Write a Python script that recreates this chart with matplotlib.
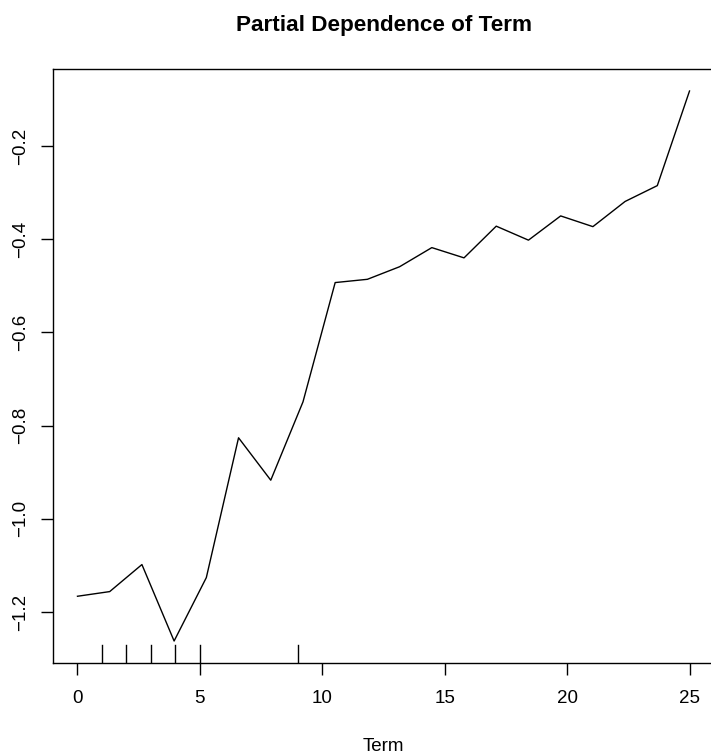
"""partial dependence of Term, redrawn in the style of an R base plot"""
import matplotlib
matplotlib.use("Agg")
import matplotlib.pyplot as plt

# grid of Term values and the partial dependence
term_grid = [0.0, 1.316, 2.632, 3.947, 5.263, 6.579, 7.895, 9.211, 10.526, 11.842,
             13.158, 14.474, 15.789, 17.105, 18.421, 19.737, 21.053, 22.368, 23.684, 25.0]
partial_dep = [-1.166, -1.156, -1.098, -1.262, -1.126, -0.826, -0.917, -0.749, -0.493, -0.486,
               -0.459, -0.418, -0.440, -0.372, -0.402, -0.350, -0.373, -0.319, -0.285, -0.082]
# observed Term values shown as the rug
rug_values = [1, 2, 3, 4, 5, 9]
x_ticks = [0, 5, 10, 15, 20, 25]
y_ticks = [-1.2, -1.0, -0.8, -0.6, -0.4, -0.2]

plt.rcParams["font.family"] = ["Liberation Sans", "DejaVu Sans"]

W, H = 711, 754
fig = plt.figure(figsize=(W / 100, H / 100), dpi=100)
left, right, top, bottom = 53, 714, 69, 663
ax = fig.add_axes([left / W, (H - bottom) / H, (right - left) / W, (bottom - top) / H])

ax.plot(term_grid, partial_dep, color="black", linewidth=1.0)

# R-style padding of 4% on both axes
xr = max(term_grid) - min(term_grid)
ax.set_xlim(min(term_grid) - 0.04 * xr, max(term_grid) + 0.04 * xr)
yr = max(partial_dep) - min(partial_dep)
ax.set_ylim(min(partial_dep) - 0.04 * yr, max(partial_dep) + 0.04 * yr)

# rug along the bottom, 3% of the plot height
for v in rug_values:
    ax.axvline(v, ymin=0, ymax=0.03, color="black", linewidth=1.0)

ax.set_xticks(x_ticks)
ax.set_xticklabels([str(t) for t in x_ticks])
ax.set_yticks(y_ticks)
ax.set_yticklabels([f"{t:.1f}".replace("-", "\u2212") for t in y_ticks], rotation=90, va="center")
ax.tick_params(axis="both", direction="out", length=8.5, width=1.0, labelsize=13.5, color="black")
ax.tick_params(axis="x", pad=11)
ax.tick_params(axis="y", pad=9)
for sp in ax.spines.values():
    sp.set_linewidth(1.0)
    sp.set_color("black")

fig.text((left + right) / 2 / W, 1 - 31 / H, "Partial Dependence of Term",
         ha="center", va="baseline", fontsize=16.2, fontweight="bold")
fig.text((left + right) / 2 / W, 1 - 751 / H, "Term", ha="center", va="baseline", fontsize=13.5)

fig.savefig("out.png", dpi=100)
